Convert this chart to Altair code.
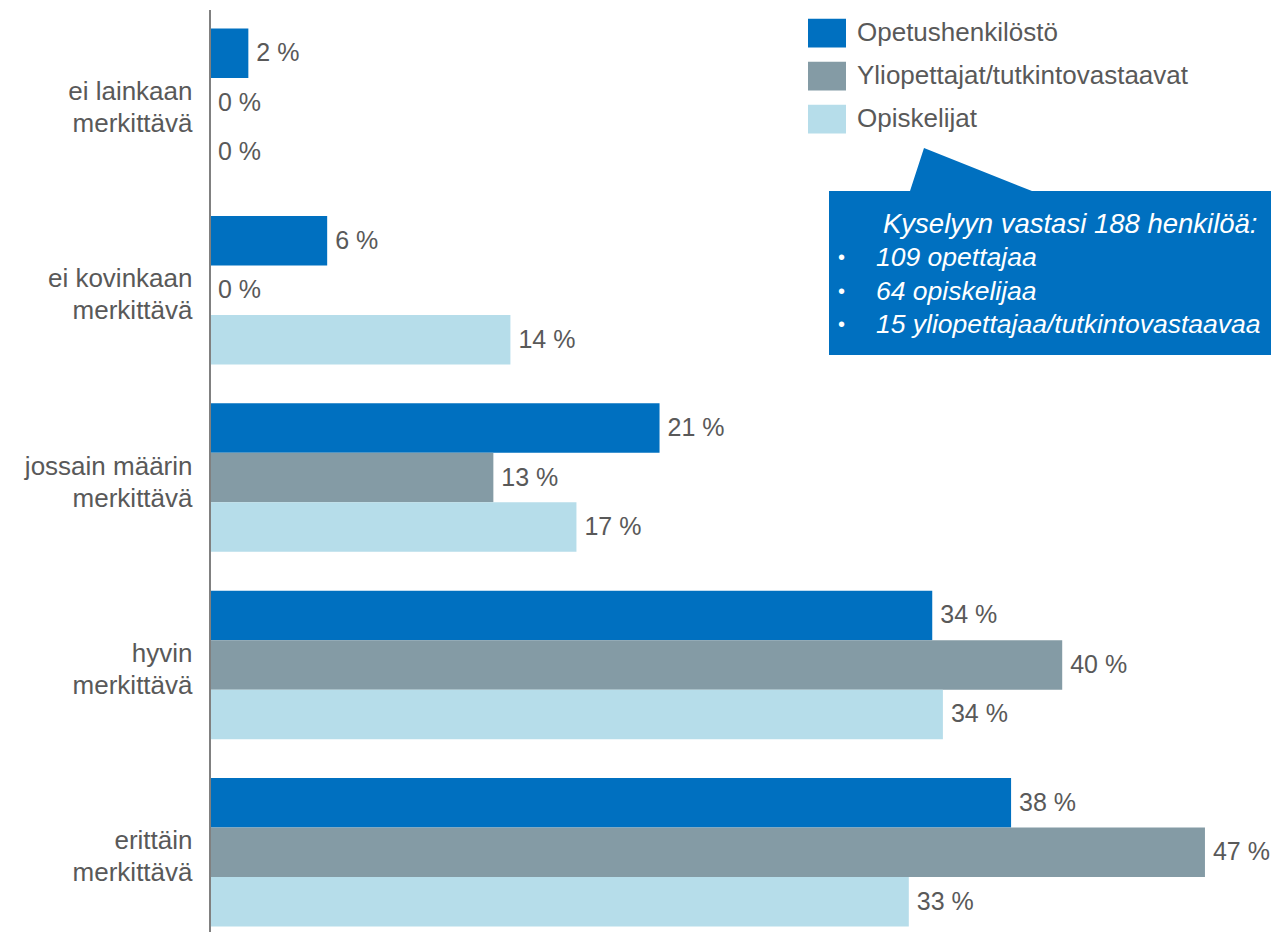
import altair as alt
import pandas as pd

categories = [
    "ei lainkaan\nmerkittävä",
    "ei kovinkaan\nmerkittävä",
    "jossain määrin\nmerkittävä",
    "hyvin\nmerkittävä",
    "erittäin\nmerkittävä",
]
series = ["Opetushenkilöstö", "Yliopettajat/tutkintovastaavat", "Opiskelijat"]
colors = ["#0070C0", "#849BA5", "#B6DDEA"]

# bar lengths (percent)
opetus = [1.8, 5.5, 21.1, 33.9, 37.6]
yliopettajat = [0.0, 0.0, 13.3, 40.0, 46.7]
opiskelijat = [0.0, 14.1, 17.2, 34.4, 32.8]

# printed labels
opetus_lbl = [2, 6, 21, 34, 38]
yliopettajat_lbl = [0, 0, 13, 40, 47]
opiskelijat_lbl = [0, 14, 17, 34, 33]

callout_title = "Kyselyyn vastasi 188 henkilöä:"
callout_items = ["109 opettajaa", "64 opiskelijaa", "15 yliopettajaa/tutkintovastaavaa"]

rows = []
for s, vals, lbls in zip(series, [opetus, yliopettajat, opiskelijat],
                         [opetus_lbl, yliopettajat_lbl, opiskelijat_lbl]):
    for c, v, l in zip(categories, vals, lbls):
        rows.append({"category": c, "series": s, "value": v, "label": f"{l} %"})
df = pd.DataFrame(rows)

FONT = "Liberation Sans"
TXT = "#595959"
FS = 26
W = 1061
H = 908.9

y_enc = alt.Y(
    "category:N",
    sort=categories,
    scale=alt.Scale(paddingInner=0.2076, paddingOuter=0.029),
    axis=alt.Axis(
        title=None,
        ticks=False,
        tickSize=0,
        grid=False,
        domain=False,
        labelFont=FONT,
        labelFontSize=FS,
        labelColor=TXT,
        labelPadding=18,
        labelLineHeight=32,
        labelOffset=-11,
        labelLimit=300,
        labelExpr="split(datum.value, '\\n')",
    ),
)
yoff = alt.YOffset("series:N", sort=series, scale=alt.Scale(paddingInner=0, paddingOuter=0))
x_enc = alt.X("value:Q", scale=alt.Scale(domain=[0, 49.8], nice=False, zero=True), axis=None)

bars = alt.Chart(df).mark_bar(opacity=1).encode(
    y=y_enc,
    yOffset=yoff,
    x=x_enc,
    color=alt.Color(
        "series:N",
        sort=series,
        scale=alt.Scale(domain=series, range=colors),
        legend=alt.Legend(
            title=None,
            orient="none",
            legendX=598,
            legendY=-9,
            padding=0,
            symbolType="M-1,-0.76L1,-0.76L1,0.76L-1,0.76Z",
            symbolSize=1444,
            symbolStrokeWidth=0,
            symbolOpacity=1,
            rowPadding=9,
            labelOffset=11,
            labelFont=FONT,
            labelFontSize=FS,
            labelColor=TXT,
            labelLimit=500,
        ),
    ),
)

labels = alt.Chart(df).mark_text(
    align="left", baseline="middle", dx=8, font=FONT, fontSize=25, color=TXT
).encode(y=alt.Y("category:N", sort=categories), yOffset=yoff, x=x_enc, text="label:N")

one = pd.DataFrame({"a": [0]})

axis_line = alt.Chart(one).mark_rule(color="#808080", strokeWidth=2).encode(
    x=alt.value(0), y=alt.value(-13), y2=alt.value(H)
)

callout = alt.Chart(one).mark_point(
    shape="M619,167.9L700,167.9L714,124.9L822,167.9L1069,167.9L1069,331.9L619,331.9Z",
    size=4, filled=True, opacity=1, color="#0070C0", strokeWidth=0,
).encode(x=alt.value(0), y=alt.value(0))

layers = [bars, labels, axis_line, callout]
layers.append(
    alt.Chart(one).mark_text(
        text=callout_title, align="left", baseline="middle", font=FONT, fontSize=27.5,
        fontStyle="italic", color="white",
    ).encode(x=alt.value(673), y=alt.value(202))
)
for i, item in enumerate(callout_items):
    yy = 235 + i * 33.5
    layers.append(
        alt.Chart(one).mark_text(
            text="•", align="left", baseline="middle", font=FONT, fontSize=20, color="white"
        ).encode(x=alt.value(628), y=alt.value(yy))
    )
    layers.append(
        alt.Chart(one).mark_text(
            text=item, align="left", baseline="middle", font=FONT, fontSize=26.5,
            fontStyle="italic", color="white",
        ).encode(x=alt.value(666), y=alt.value(yy))
    )

chart = alt.layer(*layers).properties(
    width=W,
    height=H,
    autosize=alt.AutoSizeParams(type="none"),
    padding={"left": 202, "top": 15.1, "right": 0, "bottom": 0},
).configure(background="white", view=alt.ViewConfig(stroke=None))

chart.save("out.html", embed_options={"renderer": "svg", "actions": False})
